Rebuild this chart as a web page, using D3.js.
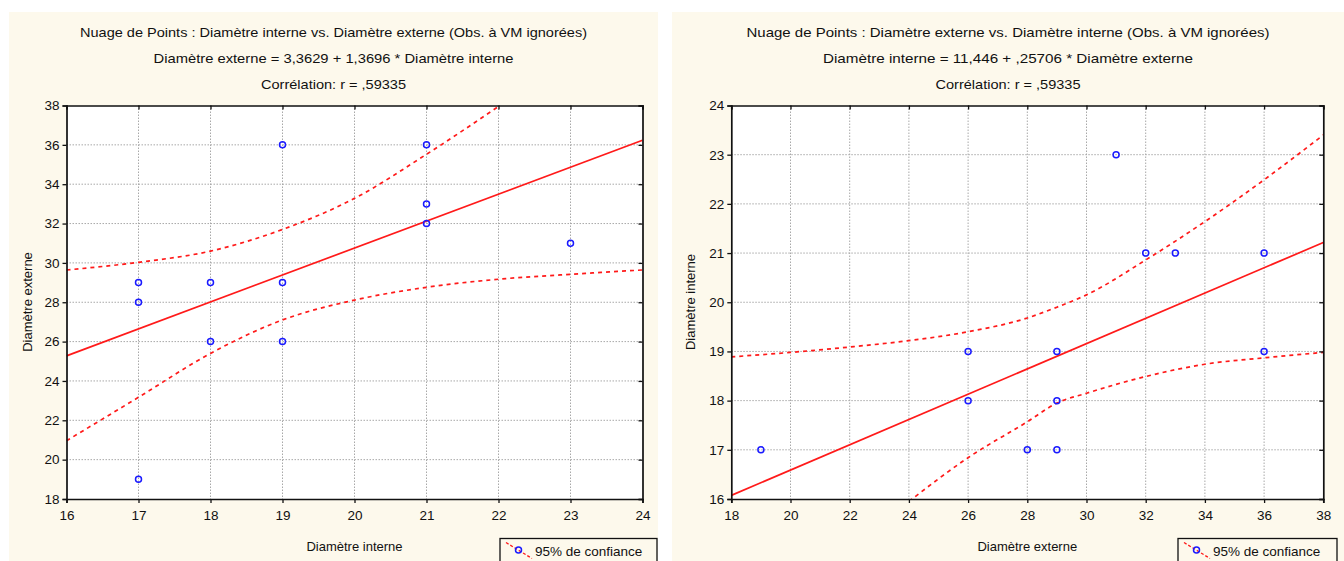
<!DOCTYPE html>
<html><head><meta charset="utf-8">
<script src="https://cdn.jsdelivr.net/npm/d3@7"></script>
<style>
html,body{margin:0;padding:0;background:#fff;}
svg{display:block;}
text{font-family:"Liberation Sans",Arial,sans-serif;fill:#111;}
</style></head>
<body>
<svg id="chart" width="1344" height="561"></svg>
<script>
// ---- Data ----
const diamInterne = [17,17,17,18,18,19,19,19,21,21,21,23];
const diamExterne = [29,28,19,29,26,36,29,26,36,33,32,31];

// Left chart: Diamètre externe = 3,3629 + 1,3696 * Diamètre interne
const leftCoef = [3.3629, 1.3696];
const leftBandX     = [16, 17, 18, 19, 20, 21, 22, 23, 24];
const leftBandUpper = [29.64, 30.03, 30.6, 31.7, 33.28, 35.52, 37.95, null, null];
const leftBandLower = [20.96, 23.17, 25.4, 27.1, 28.11, 28.76, 29.17, 29.42, 29.64];
const leftXTicks = [16,17,18,19,20,21,22,23,24];
const leftYTicks = [18,20,22,24,26,28,30,32,34,36,38];

// Right chart: Diamètre interne = 11,446 + ,25706 * Diamètre externe
const rightCoef = [11.446, 0.25706];
const rightBandX     = [18, 20, 22, 24, 26, 28, 29, 30, 32, 34, 36, 38];
const rightBandUpper = [18.89, 18.98, 19.09, 19.22, 19.4, 19.68, 19.9, 20.15, 20.86, 21.64, 22.49, 23.4];
const rightBandLower = [null, null, null, 15.95, 16.84, 17.57, 17.95, 18.15, 18.49, 18.74, 18.87, 18.98];
const rightXTicks = [18,20,22,24,26,28,30,32,34,36,38];
const rightYTicks = [16,17,18,19,20,21,22,23,24];

const svg = d3.select("#chart");

function panel(cfg){
  const g = svg.append("g");
  g.append("rect").attr("x",cfg.px).attr("y",12).attr("width",cfg.pw).attr("height",549).attr("fill","#fdf9ec");
  const cx = cfg.px + cfg.pw/2;
  const titles = [cfg.t1, cfg.t2, "Corrélation: r = ,59335"];
  const ty = [37, 63, 89];
  titles.forEach((t,i)=>{
    g.append("text").attr("x",cx).attr("y",ty[i]).attr("text-anchor","middle")
     .attr("font-size",13).attr("textLength",cfg.tl[i]).attr("lengthAdjust","spacingAndGlyphs").text(t);
  });
  const x = d3.scaleLinear().domain(cfg.xd).range([cfg.x0, cfg.x1]);
  const y = d3.scaleLinear().domain(cfg.yd).range([499, 105.5]);
  const W = cfg.x1-cfg.x0, H = 499-105.5;
  g.append("rect").attr("x",cfg.x0).attr("y",105.5).attr("width",W).attr("height",H).attr("fill","#fff");
  // grid
  g.append("g").selectAll("line").data(cfg.xt.slice(1,-1)).join("line")
    .attr("x1",d=>x(d)).attr("x2",d=>x(d)).attr("y1",105.5).attr("y2",499)
    .attr("stroke","#a8a8a8").attr("stroke-width",1).attr("stroke-dasharray","1.5,1.5");
  g.append("g").selectAll("line").data(cfg.yt.slice(1,-1)).join("line")
    .attr("y1",d=>y(d)).attr("y2",d=>y(d)).attr("x1",cfg.x0).attr("x2",cfg.x1)
    .attr("stroke","#a8a8a8").attr("stroke-width",1).attr("stroke-dasharray","1.5,1.5");
  // clip
  const cid = "clip"+cfg.id;
  svg.append("clipPath").attr("id",cid).append("rect").attr("x",cfg.x0).attr("y",105.5).attr("width",W).attr("height",H);
  const pg = g.append("g").attr("clip-path",`url(#${cid})`);
  // regression
  pg.append("line").attr("x1",x(cfg.xd[0])).attr("y1",y(cfg.coef[0]+cfg.coef[1]*cfg.xd[0]))
    .attr("x2",x(cfg.xd[1])).attr("y2",y(cfg.coef[0]+cfg.coef[1]*cfg.xd[1]))
    .attr("stroke","#ff1a1a").attr("stroke-width",1.7);
  const band = (vals)=>{
    const pts = cfg.bx.map((v,i)=>[v, vals[i]]).filter(p=>p[1]!=null);
    const line = d3.line().x(p=>x(p[0])).y(p=>y(p[1])).curve(d3.curveMonotoneX);
    pg.append("path").attr("d",line(pts)).attr("fill","none").attr("stroke","#ff1a1a")
      .attr("stroke-width",1.7).attr("stroke-dasharray","4,4");
  };
  band(cfg.bu); band(cfg.bl);
  // points
  pg.append("g").selectAll("circle").data(cfg.pts).join("circle")
    .attr("cx",d=>x(d[0])).attr("cy",d=>y(d[1])).attr("r",3)
    .attr("fill","none").attr("stroke","#1a1aff").attr("stroke-width",1.5);
  // axes
  const fmt = d3.format("d");
  const ax = g.append("g").attr("transform","translate(0,499)")
    .call(d3.axisBottom(x).tickValues(cfg.xt).tickFormat(fmt).tickSize(4).tickPadding(7));
  const ay = g.append("g").attr("transform",`translate(${cfg.x0},0)`)
    .call(d3.axisLeft(y).tickValues(cfg.yt).tickFormat(fmt).tickSize(4).tickPadding(3));
  const at = g.append("g").attr("transform","translate(0,105.5)")
    .call(d3.axisBottom(x).tickValues(cfg.xt).tickFormat("").tickSize(4));
  const ar = g.append("g").attr("transform",`translate(${cfg.x1},0)`)
    .call(d3.axisLeft(y).tickValues(cfg.yt).tickFormat("").tickSize(4));
  [ax,ay,at,ar].forEach(a=>{
    a.select(".domain").attr("stroke","#111").attr("stroke-width",1.7);
    a.selectAll(".tick line").attr("stroke","#111").attr("stroke-width",1.3);
    a.selectAll("text").attr("font-size",13.5).attr("fill","#111")
      .attr("font-family","'Liberation Sans',Arial,sans-serif");
  });
  // axis titles
  g.append("text").attr("x",(cfg.x0+cfg.x1)/2).attr("y",551).attr("text-anchor","middle")
    .attr("font-size",13).text(cfg.xl);
  g.append("text").attr("transform",`translate(${cfg.px+23},302) rotate(-90)`).attr("text-anchor","middle")
    .attr("font-size",13).text(cfg.yl);
  // legend
  const lx = cfg.lx, ly = 538.5;
  g.append("rect").attr("x",lx).attr("y",ly).attr("width",cfg.lw).attr("height",30)
    .attr("fill","#fdf9ec").attr("stroke","#111").attr("stroke-width",1.3);
  g.append("line").attr("x1",lx+6).attr("y1",ly+4).attr("x2",lx+32).attr("y2",ly+20)
    .attr("stroke","#ff1a1a").attr("stroke-width",1.3).attr("stroke-dasharray","3,2");
  g.append("circle").attr("cx",lx+18.5).attr("cy",ly+11.5).attr("r",3)
    .attr("fill","none").attr("stroke","#1a1aff").attr("stroke-width",1.5);
  g.append("text").attr("x",lx+35).attr("y",ly+17.5).attr("font-size",13.5).text("95% de confiance");
}

panel({id:"L", px:9, pw:649, x0:66.5, x1:642.5, xd:[16,24], yd:[18,38],
  t1:"Nuage de Points : Diamètre interne vs. Diamètre externe (Obs. à VM ignorées)",
  t2:"Diamètre externe = 3,3629 + 1,3696 * Diamètre interne", tl:[507,360,145],
  coef:leftCoef, bx:leftBandX, bu:leftBandUpper, bl:leftBandLower,
  pts:diamInterne.map((v,i)=>[v,diamExterne[i]]), xt:leftXTicks, yt:leftYTicks,
  xl:"Diamètre interne", yl:"Diamètre externe", lx:500, lw:157});

panel({id:"R", px:672, pw:672, x0:731.3, x1:1323.3, xd:[18,38], yd:[16,24],
  t1:"Nuage de Points : Diamètre externe vs. Diamètre interne (Obs. à VM ignorées)",
  t2:"Diamètre interne = 11,446 + ,25706 * Diamètre externe", tl:[523,370,145],
  coef:rightCoef, bx:rightBandX, bu:rightBandUpper, bl:rightBandLower,
  pts:diamExterne.map((v,i)=>[v,diamInterne[i]]), xt:rightXTicks, yt:rightYTicks,
  xl:"Diamètre externe", yl:"Diamètre interne", lx:1178, lw:159});
</script>
</body></html>
